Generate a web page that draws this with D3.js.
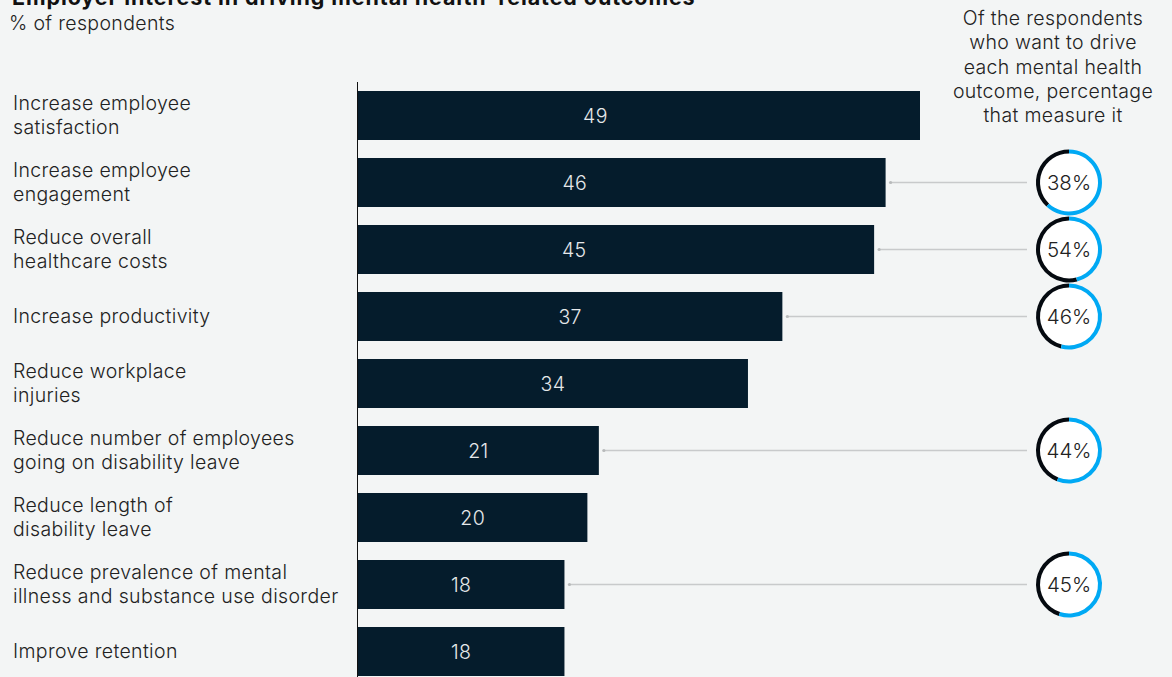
<!DOCTYPE html>
<html><head><meta charset="utf-8">
<script src="https://cdn.jsdelivr.net/npm/d3@7"></script>
<style>
html,body{margin:0;padding:0;background:#f3f5f5;}
svg{display:block;font-family:Inter,"Open Sans",sans-serif;font-weight:300;letter-spacing:0.35px;}
</style></head>
<body>
<svg id="chart" width="1172" height="677"></svg>
<script>
const title = "Employer interest in driving mental health–related outcomes";
const subtitle = "% of respondents";
const rightHeader = ["Of the respondents","who want to drive","each mental health","outcome, percentage","that measure it"];
const categories = [
  ["Increase employee","satisfaction"],
  ["Increase employee","engagement"],
  ["Reduce overall","healthcare costs"],
  ["Increase productivity"],
  ["Reduce workplace","injuries"],
  ["Reduce number of employees","going on disability leave"],
  ["Reduce length of","disability leave"],
  ["Reduce prevalence of mental","illness and substance use disorder"],
  ["Improve retention"]
];
const interest = [49,46,45,37,34,21,20,18,18];
const measured = [null,38,54,46,null,44,null,45,null];

const svg = d3.select("#chart");
const x0 = 358;
const x = d3.scaleLinear().domain([0,49]).range([x0,920]);
const y = d3.scaleBand().domain(d3.range(interest.length)).range([91,676]).paddingInner(18/67).paddingOuter(0).align(0);
// value-label placement (in value units) to mimic the reference
const labelPos = d3.scaleLinear().domain([0,37,46,49]).range([0,18.5,18.9,20.7]);

const textColor = "#222";
const fs = 19.5;

// title (cut at top)
svg.append("text").attr("x",12).attr("y",4.5).attr("font-size",21.5).attr("font-weight",700).attr("letter-spacing","0.9px").attr("fill","#111").text(title);
svg.append("text").attr("x",9).attr("y",30).attr("font-size",fs).attr("fill",textColor).text(subtitle);

// right header
const rh = svg.append("text").attr("text-anchor","middle").attr("font-size",fs).attr("fill",textColor);
rightHeader.forEach((t,i)=>rh.append("tspan").attr("x",1053).attr("y",25+i*24.3).text(t));

// axis line
svg.append("line").attr("x1",x0-0.5).attr("x2",x0-0.5).attr("y1",82).attr("y2",677).attr("stroke","#111").attr("stroke-width",1);

// bars
const g = svg.append("g");
g.selectAll("rect").data(interest).join("rect")
  .attr("x",x0).attr("y",(d,i)=>y(i)).attr("width",d=>x(d)-x0).attr("height",y.bandwidth()).attr("fill","#051c2c");
g.selectAll("text.val").data(interest).join("text").attr("class","val")
  .attr("x",d=>x(labelPos(d))).attr("y",(d,i)=>y(i)+y.bandwidth()/2+7)
  .attr("text-anchor","middle").attr("font-size",fs).attr("fill","#e6e8ea").text(d=>d);

// category labels
categories.forEach((lines,i)=>{
  const cy = y(i)+y.bandwidth()/2;
  const t = svg.append("text").attr("font-size",fs).attr("fill",textColor);
  const n = lines.length;
  lines.forEach((ln,j)=>{
    t.append("tspan").attr("x",13).attr("y",cy + 6.5 - (n-1)*12 + j*24).text(ln);
  });
});

// connectors and donuts
const cx = 1069, r = 31;
const arc = d3.arc().innerRadius(r-2).outerRadius(r+2);
measured.forEach((m,i)=>{
  if(m==null) return;
  const cy = y(i)+y.bandwidth()/2;
  const xs = x(interest[i])+5;
  svg.append("line").attr("x1",xs).attr("x2",1027).attr("y1",cy).attr("y2",cy).attr("stroke","#c8cacb").attr("stroke-width",1.5);
  svg.append("circle").attr("cx",xs).attr("cy",cy).attr("r",1.6).attr("fill","#b8babb");
  const gg = svg.append("g").attr("transform",`translate(${cx},${cy})`);
  gg.append("circle").attr("r",r).attr("fill","#fff");
  const a = m/100*2*Math.PI;
  gg.append("path").attr("d",arc({startAngle:-a,endAngle:0})).attr("fill","#050a10");
  gg.append("path").attr("d",arc({startAngle:0,endAngle:2*Math.PI-a})).attr("fill","#00a9f4");
  gg.append("text").attr("text-anchor","middle").attr("x",0).attr("y",7.5).attr("font-size",20.5).attr("letter-spacing","0px").attr("fill",textColor).text(m+"%");
});
</script>
</body></html>
